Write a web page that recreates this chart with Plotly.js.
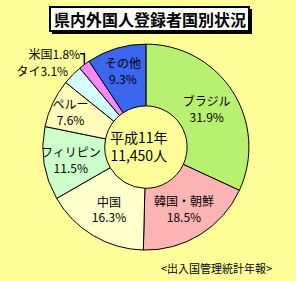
<!DOCTYPE html>
<html><head><meta charset="utf-8">
<script src="https://cdn.plot.ly/plotly-3.0.1.min.js"></script>
<style>html,body{margin:0;padding:0;background:#FFFF99;}</style>
</head><body>
<div id="chart" style="width:296px;height:281px;"></div>
<script>
const categories = ["ブラジル", "韓国・朝鮮", "中国", "フィリピン", "ペルー", "タイ", "米国", "その他"];
const shares = [31.9, 18.5, 16.3, 11.5, 7.6, 3.1, 1.8, 9.3];
const colors = ["#B8F070", "#FFB4B4", "#FFFFCC", "#CCFFCC", "#FFFFBB", "#D4FFFF", "#FF88FF", "#3A66F0"];
const textPositions = ["inside", "inside", "inside", "inside", "inside", "outside", "outside", "inside"];
const titleText = "県内外国人登録者国別状況";
const centerText = "平成11年<br>11,450人";
const sourceText = "<出入国管理統計年報>";

const labelTexts = categories.map((c, i) =>
  textPositions[i] === "outside" ? c + shares[i].toFixed(1) + "%" : c + "<br>" + shares[i].toFixed(1) + "%");

const font = "Noto Sans CJK JP, sans-serif";

Plotly.newPlot("chart", [{
  type: "pie",
  labels: categories,
  values: shares,
  text: labelTexts,
  textinfo: "text",
  hoverinfo: "none",
  textposition: textPositions,
  insidetextorientation: "horizontal",
  sort: false,
  direction: "clockwise",
  rotation: 0,
  hole: 0.4,
  marker: {colors: colors, line: {color: "#000000", width: 1}},
  textfont: {family: font, size: 12, color: "#000000"},
  outsidetextfont: {family: font, size: 12, color: "#000000"},
  domain: {x: [0.145, 0.841], y: [0.110, 0.843]},
  showlegend: false
}], {
  width: 296, height: 281,
  margin: {l: 0, r: 0, t: 0, b: 0},
  paper_bgcolor: "#FFFF99",
  plot_bgcolor: "#FFFF99",
  showlegend: false,
  uniformtext: {mode: "show", minsize: 12},
  shapes: [
    {type: "rect", xref: "paper", yref: "paper", x0: 52/296, x1: 252/296, y0: 1 - 34/281, y1: 1 - 9/281,
     fillcolor: "#000000", line: {width: 0}},
    {type: "rect", xref: "paper", yref: "paper", x0: 50/296, x1: 249/296, y0: 1 - 31/281, y1: 1 - 7/281,
     fillcolor: "#FFFFFF", line: {color: "#000000", width: 2}}
  ],
  annotations: [
    {text: "<b>" + titleText + "</b>", xref: "paper", yref: "paper", x: 149.5/296, y: 1 - 19/281,
     xanchor: "center", yanchor: "middle", showarrow: false, font: {family: font, size: 16, color: "#000000"}},
    {text: centerText, xref: "paper", yref: "paper", x: 139/296, y: 1 - 146/281,
     xanchor: "center", yanchor: "middle", showarrow: false, font: {family: font, size: 14, color: "#000000"}},
    {text: sourceText, xref: "paper", yref: "paper", x: 274/296, y: 1 - 268/281,
     xanchor: "right", yanchor: "middle", showarrow: false, font: {family: font, size: 11, color: "#000000"}}
  ]
}, {displayModeBar: false, staticPlot: true});
</script>
</body></html>
